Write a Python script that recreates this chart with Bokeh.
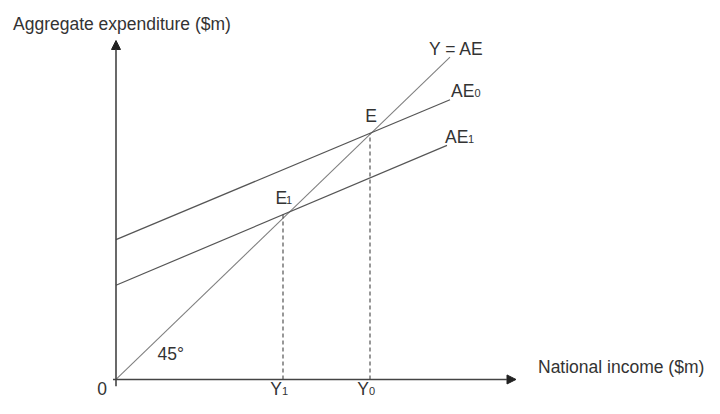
from bokeh.plotting import figure
from bokeh.models import Arrow, NormalHead, ColumnDataSource
from bokeh.embed import file_html
from bokeh.resources import INLINE
from bokeh.core.properties import value

# ---- data (diagram units) ----
yae_x = [0, 334]          # 45-degree line Y = AE
yae_y = [0, 332]
ae0_x = [0, 334]          # AE0
ae0_y = [144, 288]
ae1_x = [0, 331]          # AE1
ae1_y = [97, 241]
eq_x = [254, 167]         # equilibrium points E, E1 (Y0, Y1)
eq_y = [253, 171]
eq_labels = ["E", "E"]
eq_subs = ["", "1"]
inc_labels = ["Y", "Y"]
inc_subs = ["0", "1"]
x_axis_end = 400
y_axis_end = 349

FONT = value("Liberation Sans")
FS = "17.5px"
SFS = "11px"
TXT = "#333333"

p = figure(width=704, height=398, x_range=(-115.5, 588.5), y_range=(-19.6, 390.2),
           output_backend="svg", toolbar_location=None,
           x_axis_type=None, y_axis_type=None,
           min_border=0, min_border_left=0, min_border_right=0,
           min_border_top=0, min_border_bottom=0)
p.grid.visible = False
p.outline_line_color = None
p.background_fill_color = "white"
p.border_fill_color = "white"

# axes with arrows
p.add_layout(Arrow(end=NormalHead(size=9, fill_color="#222", line_color="#222"),
                   x_start=0, y_start=-7, x_end=0, y_end=y_axis_end,
                   line_color="#444", line_width=1.6))
p.add_layout(Arrow(end=NormalHead(size=9, fill_color="#222", line_color="#222"),
                   x_start=-3, y_start=0, x_end=x_axis_end, y_end=0,
                   line_color="#444", line_width=1.6))

# lines
p.line(yae_x, yae_y, line_color="#808080", line_width=1.1)
p.line(ae0_x, ae0_y, line_color="#555555", line_width=1.2)
p.line(ae1_x, ae1_y, line_color="#555555", line_width=1.2)

# dashed drop lines
src = ColumnDataSource(dict(x0=eq_x, y0=[0, 0], x1=eq_x, y1=eq_y))
p.segment(x0="x0", y0="y0", x1="x1", y1="y1", source=src,
          line_color="#444444", line_width=1.1, line_dash="4 3")

def txt(x, y, s, size=FS, align="left", baseline="alphabetic", xo=0, yo=0):
    p.text(x=[x], y=[y], text=[s], text_font=FONT, text_font_size=size,
           text_color=TXT, text_align=align, text_baseline=baseline,
           x_offset=xo, y_offset=yo)

# axis titles
txt(0, y_axis_end, "Aggregate expenditure ($m)", xo=-103, yo=-17)
txt(x_axis_end, 0, "National income ($m)", xo=22, yo=-12)
txt(0, 0, "0", align="center", xo=-14, yo=9)
txt(0, 0, "45°", xo=41.5, yo=-25)

# line labels
txt(yae_x[-1], yae_y[-1], "Y = AE", xo=-21, yo=-8)
txt(ae0_x[-1], ae0_y[-1], "AE", xo=1, yo=-9)
txt(ae0_x[-1], ae0_y[-1], "0", size=SFS, xo=24.5, yo=-7)
txt(ae1_x[-1], ae1_y[-1], "AE", xo=-2, yo=-8)
txt(ae1_x[-1], ae1_y[-1], "1", size=SFS, xo=21, yo=-6)

# equilibrium labels
txt(eq_x[0], eq_y[0], eq_labels[0], align="center", xo=1, yo=-18)
txt(eq_x[1], eq_y[1], eq_labels[1], xo=-7.5, yo=-15)
txt(eq_x[1], eq_y[1], eq_subs[1], size=SFS, xo=3, yo=-13)

# income labels on x axis
for xv, lab, sub in zip(eq_x, inc_labels, inc_subs):
    txt(xv, 0, lab, align="right", xo=-1, yo=10)
    txt(xv, 0, sub, size=SFS, xo=-1, yo=12)

open("out.html", "w").write(file_html(p, INLINE))
